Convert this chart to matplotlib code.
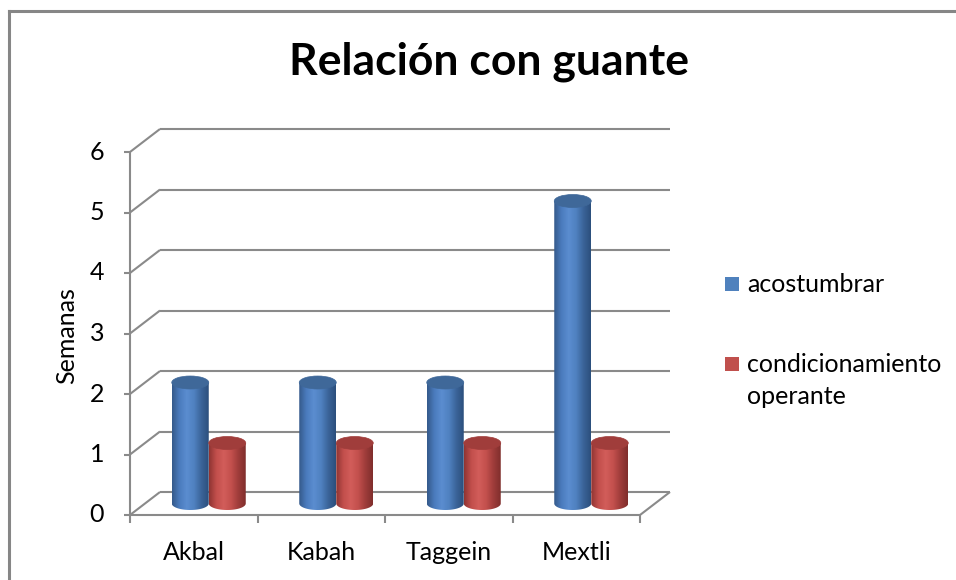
import numpy as np
import matplotlib.pyplot as plt
from matplotlib.patches import Ellipse, Polygon, Rectangle
from matplotlib.lines import Line2D
from matplotlib.colors import LinearSegmentedColormap

categories = ['Akbal', 'Kabah', 'Taggein', 'Mextli']
acostumbrar = [2, 2, 2, 5]
condicionamiento = [1, 1, 1, 1]
series_labels = ['acostumbrar', 'condicionamiento\noperante']
y_ticks = [0, 1, 2, 3, 4, 5, 6]

plt.rcParams['font.family'] = ['Lato', 'DejaVu Sans']

W, H = 956, 580
# pixel layout of the front plane: x=0 at px 130, one category = 127.5 px,
# y=0 at px 515 (from top), one unit = 60.5 px
X0, CW = 130, 127.5
Y0, UH = 515, 60.5
DX, DY = 30 / CW, 23 / UH      # depth offset of the back wall

fig = plt.figure(figsize=(W / 100, H / 100), dpi=100)
ax = fig.add_axes([0, 0, 1, 1])
ax.axis('off')

grid_kw = dict(color='#8a8a8a', lw=1.5, solid_capstyle='butt', zorder=1)

# back wall gridlines + diagonals into the front axis
for v in y_ticks:
    ax.plot([0, DX], [v, v + DY], **grid_kw)
    ax.plot([DX, len(categories) + DX], [v + DY, v + DY], **grid_kw)
    ax.plot([-6 / CW, 0], [v, v], **grid_kw)
    ax.text(-26 / CW, v, str(v), ha='right', va='center', fontsize=18)

ax.plot([0, 0], [0, y_ticks[-1]], **grid_kw)
# floor
ax.plot([0, len(categories)], [0, 0], **grid_kw)
ax.plot([len(categories), len(categories) + DX], [0, DY], **grid_kw)
for i in range(len(categories) + 1):
    ax.plot([i, i], [0, -8 / UH], **grid_kw)
for i, c in enumerate(categories):
    ax.text(i + 0.5, -37 / UH, c, ha='center', va='center', fontsize=18)

ax.text(-63 / CW, 2.96, 'Semanas', rotation=90, ha='center', va='center', fontsize=18)

# cylinders
cmaps = [
    LinearSegmentedColormap.from_list('b', ['#34598a', '#4a7bbd', '#5b8dd0', '#4f81c0', '#3a6398', '#2c4f7c']),
    LinearSegmentedColormap.from_list('r', ['#8f3432', '#c24f4c', '#d25d5a', '#c3504d', '#9e3c3a', '#7f2e2c']),
]
top_colors = ['#3f6899', '#a03d3b']
bw = 37 / CW
eh = 13 / UH
grad = np.linspace(0, 1, 256).reshape(1, -1)
for j, vals in enumerate([acostumbrar, condicionamiento]):
    for i, v in enumerate(vals):
        cx = i + 0.5 + 0.5 * DX + (j - 0.5) * bw
        yb = 0.5 * DY
        yt = v + 0.5 * DY
        th = np.linspace(np.pi, 2 * np.pi, 60)
        xs = list(cx + bw / 2 * np.cos(th)) + [cx + bw / 2, cx - bw / 2]
        ys = list(yb + eh / 2 * np.sin(th)) + [yt, yt]
        body = Polygon(np.column_stack([xs, ys]), closed=True, facecolor='none',
                       edgecolor='none', zorder=3 + j)
        ax.add_patch(body)
        im = ax.imshow(grad, extent=[cx - bw / 2, cx + bw / 2, yb - eh / 2, yt],
                       cmap=cmaps[j], aspect='auto', interpolation='bilinear',
                       zorder=3 + j)
        im.set_clip_path(body)
        ax.add_patch(Ellipse((cx, yt), bw, eh, facecolor=top_colors[j],
                             edgecolor=top_colors[j], lw=0.5, zorder=3.5 + j))

ax.set_xlim(-X0 / CW, (W - X0) / CW)
ax.set_ylim(-(H - Y0) / UH, Y0 / UH)

# title
fig.text(489 / W, 1 - 62 / H, 'Relación con guante', ha='center', va='center',
         fontsize=32, fontweight='bold')

# legend
legend_colors = ['#4f81bd', '#c0504d']
for k, lab in enumerate(series_labels):
    ytop = [277, 357][k]
    fig.patches.append(Rectangle((725 / W, 1 - (ytop + 14) / H), 14 / W, 14 / H,
                                 transform=fig.transFigure, facecolor=legend_colors[k],
                                 edgecolor='none'))
    for n, line in enumerate(lab.split('\n')):
        fig.text(747 / W, 1 - (ytop + 15 + 32 * n) / H, line, ha='left',
                 va='baseline', fontsize=18)

# chart border (left and top edges only are in view)
fig.add_artist(Line2D([9 / W, 9 / W], [0, 1 - 11 / H], color='#868686', lw=2.2,
                      transform=fig.transFigure))
fig.add_artist(Line2D([9 / W, 1], [1 - 11 / H, 1 - 11 / H], color='#868686', lw=2.2,
                      transform=fig.transFigure))

fig.savefig('out.png', dpi=100)
